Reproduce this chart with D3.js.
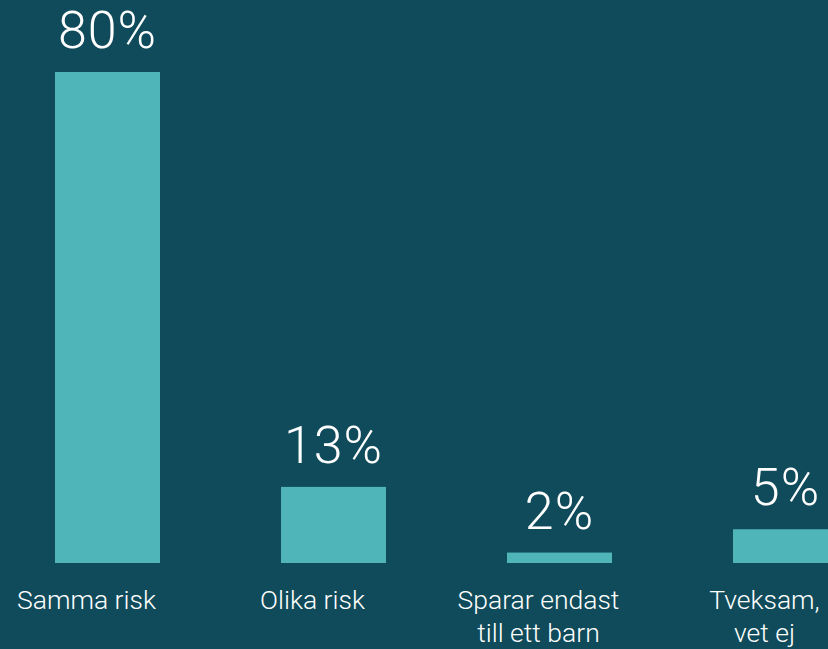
<!DOCTYPE html>
<html>
<head>
<meta charset="utf-8">
<script src="https://cdn.jsdelivr.net/npm/d3@7"></script>
<style>
  html, body { margin: 0; padding: 0; background: #0f4b5a; overflow: hidden; }
  svg { display: block; }
  .value { font-family: Roboto, "Open Sans", sans-serif; font-weight: 300; fill: #ffffff; }
  .cat { font-family: Roboto, "Open Sans", sans-serif; font-weight: 300; fill: #ffffff; }
</style>
</head>
<body>
<div id="chart"></div>
<script>
// Chart data
const categories = ["Samma risk", "Olika risk", "Sparar endast\ntill ett barn", "Tveksam,\nvet ej"];
const values = [80, 12.4, 1.7, 5.5];
const valueLabels = ["80%", "13%", "2%", "5%"];

const width = 828;
const height = 649;
const margin = { top: 72, right: 0, bottom: 86, left: 0 };
const labelShift = -21; // category labels sit a little left of the bar centre

const svg = d3
  .select("#chart")
  .append("svg")
  .attr("width", width)
  .attr("height", height);

svg.append("rect").attr("width", width).attr("height", height).attr("fill", "#0f4b5a");

// band scale: step 226, bar 105, first bar starts at x=55
const xScale = d3
  .scaleBand()
  .domain(categories)
  .range([55 - (226 - 105) / 2, 55 - (226 - 105) / 2 + 226 * categories.length])
  .paddingInner((226 - 105) / 226)
  .paddingOuter((226 - 105) / 226 / 2);

const baseline = height - margin.bottom;
const yScale = d3.scaleLinear().domain([0, 80]).range([baseline, margin.top]);
const cx = (c) => xScale(c) + xScale.bandwidth() / 2;

// Bars
svg
  .selectAll("rect.bar")
  .data(values)
  .enter()
  .append("rect")
  .attr("class", "bar")
  .attr("x", (d, i) => xScale(categories[i]))
  .attr("y", (d) => yScale(d))
  .attr("width", xScale.bandwidth())
  .attr("height", (d) => baseline - yScale(d))
  .attr("fill", "#4fb5b8");

// Value labels
svg
  .selectAll("text.value")
  .data(values)
  .enter()
  .append("text")
  .attr("class", "value")
  .attr("x", (d, i) => cx(categories[i]))
  .attr("y", (d) => yScale(d) - 24)
  .attr("text-anchor", "middle")
  .style("font-size", "52px")
  .style("letter-spacing", "1px")
  .text((d, i) => valueLabels[i]);

// Category labels
const cats = svg
  .selectAll("text.cat")
  .data(categories)
  .enter()
  .append("text")
  .attr("class", "cat")
  .attr("y", baseline + 46)
  .attr("text-anchor", "middle")
  .style("font-size", "26.5px");

cats
  .selectAll("tspan")
  .data((d) => d.split("\n").map((t) => ({ t, x: cx(d) + labelShift })))
  .enter()
  .append("tspan")
  .attr("x", (d) => d.x)
  .attr("dy", (d, i) => (i === 0 ? 0 : 33))
  .text((d) => d.t);
</script>
</body>
</html>
